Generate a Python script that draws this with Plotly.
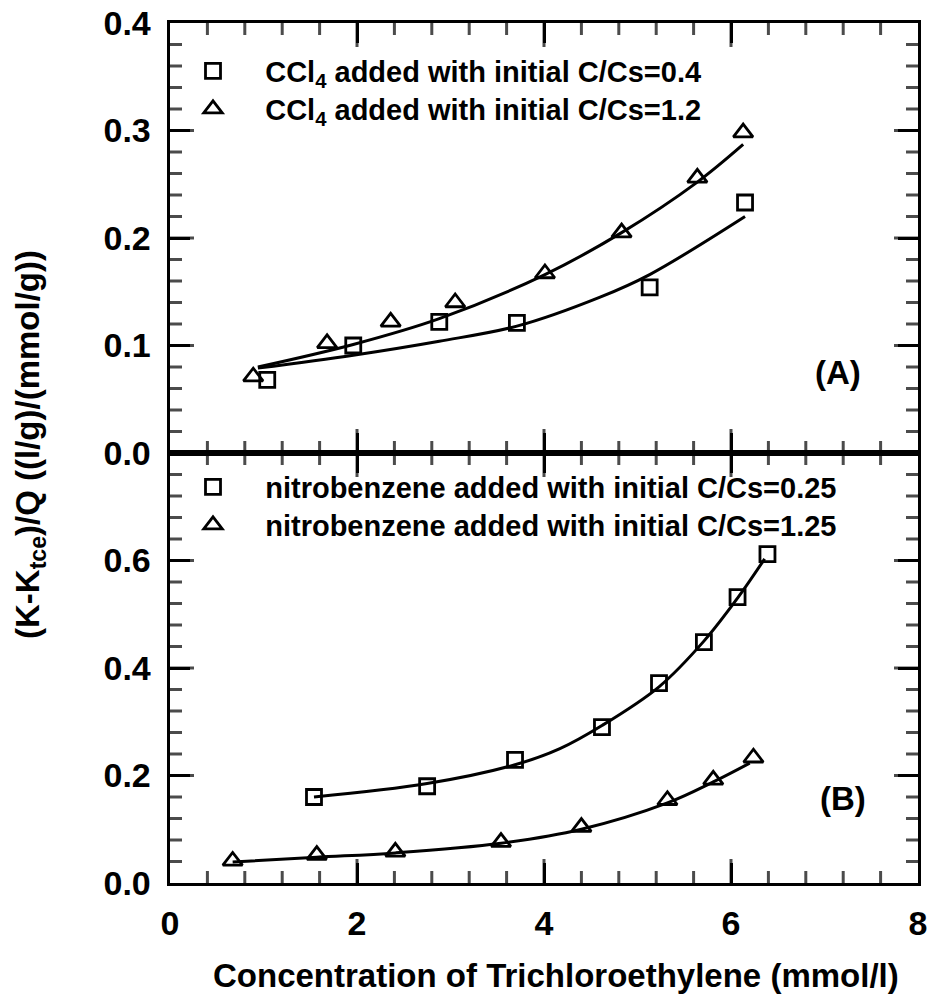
import plotly.graph_objects as go
from plotly.subplots import make_subplots

# ---------------- Panel A (CCl4) ----------------
a_sq_x = [1.04, 1.96, 2.88, 3.71, 5.13, 6.15]
a_sq_y = [0.068, 0.100, 0.122, 0.121, 0.154, 0.233]
a_tri_x = [0.89, 1.68, 2.36, 3.05, 4.01, 4.83, 5.64, 6.13]
a_tri_y = [0.071, 0.102, 0.122, 0.140, 0.167, 0.205, 0.256, 0.298]
a_sq_fit_x = [0.94, 1.96, 2.88, 3.71, 4.60, 5.13, 6.15]
a_sq_fit_y = [0.079, 0.091, 0.104, 0.118, 0.145, 0.166, 0.220]
a_tri_fit_x = [0.94, 1.96, 2.88, 4.01, 4.83, 5.64, 6.13]
a_tri_fit_y = [0.080, 0.101, 0.125, 0.166, 0.205, 0.252, 0.287]

# ---------------- Panel B (nitrobenzene) ----------------
b_sq_x = [1.54, 2.75, 3.69, 4.62, 5.23, 5.71, 6.07, 6.39]
b_sq_y = [0.160, 0.180, 0.229, 0.290, 0.372, 0.448, 0.532, 0.612]
b_tri_x = [0.67, 1.57, 2.41, 3.54, 4.40, 5.32, 5.81, 6.24]
b_tri_y = [0.041, 0.052, 0.058, 0.076, 0.104, 0.154, 0.192, 0.233]
b_sq_fit_x = [1.54, 2.75, 3.69, 4.17, 4.62, 5.23, 5.71, 6.07, 6.36]
b_sq_fit_y = [0.160, 0.185, 0.220, 0.250, 0.293, 0.365, 0.450, 0.530, 0.603]
b_tri_fit_x = [0.67, 1.57, 2.41, 3.54, 4.40, 5.32, 5.81, 6.20]
b_tri_fit_y = [0.039, 0.048, 0.056, 0.074, 0.100, 0.149, 0.188, 0.223]

legend_names = [
    "CCl<sub>4</sub> added with initial C/Cs=0.4",
    "CCl<sub>4</sub> added with initial C/Cs=1.2",
    "nitrobenzene added with initial C/Cs=0.25",
    "nitrobenzene added with initial C/Cs=1.25",
]

# tick values
x_major = [0, 2, 4, 6, 8]
x_minor_step = 0.4
ya_major = [0.0, 0.1, 0.2, 0.3, 0.4]
ya_minor_step = 0.02
yb_major = [0.0, 0.2, 0.4, 0.6]
yb_minor_step = 0.04

X_RANGE = [0, 8]
YA_RANGE = [0, 0.4]
YB_RANGE = [0, 0.8]

FONT = "Liberation Sans"
PAD = "\u00a0" * 4

L, R, T, B = 170, 12, 23, 123
W, H = 930, 1006
PW, PH = W - L - R, H - T - B

fig = make_subplots(rows=2, cols=1, shared_xaxes=True, vertical_spacing=0)

line_style = dict(color="black", width=3, shape="spline", smoothing=1.0)
sq_marker = dict(symbol="square-open", size=15, color="black",
                 line=dict(width=2.8, color="black"))
tri_marker = dict(symbol="triangle-up-open", size=17, color="black",
                  line=dict(width=2.8, color="black"))


# ---- inside tick marks (major 20 px, minor 10 px) as line-shaped markers ----
def steps(lo, hi, step):
    n = int(round((hi - lo) / step))
    return [lo + i * step for i in range(n + 1)]


def is_major(v, majors):
    return any(abs(v - m) < 1e-9 for m in majors)


def tick_markers(yrange, majors_y, ystep):
    x_per_px = (X_RANGE[1] - X_RANGE[0]) / PW
    y_per_px = (yrange[1] - yrange[0]) / (PH / 2)
    vx, vy, vs = [], [], []
    for v in steps(X_RANGE[0], X_RANGE[1], x_minor_step)[1:-1]:
        ln = 20 if is_major(v, x_major) else 10
        vx += [v, v]
        vy += [yrange[0] + ln / 2 * y_per_px, yrange[1] - ln / 2 * y_per_px]
        vs += [ln, ln]
    hx, hy, hs = [], [], []
    for v in steps(yrange[0], yrange[1], ystep)[1:-1]:
        ln = 20 if is_major(v, majors_y) else 10
        hx += [X_RANGE[0] + ln / 2 * x_per_px, X_RANGE[1] - ln / 2 * x_per_px]
        hy += [v, v]
        hs += [ln, ln]
    return (vx, vy, vs), (hx, hy, hs)


for row, yr, majors, ystep in ((1, YA_RANGE, ya_major, ya_minor_step),
                               (2, YB_RANGE, yb_major, yb_minor_step)):
    (vx, vy, vs), (hx, hy, hs) = tick_markers(yr, majors, ystep)
    fig.add_trace(go.Scatter(x=vx, y=vy, mode="markers", showlegend=False,
                             hoverinfo="skip",
                             marker=dict(symbol="line-ns", size=vs, color="black",
                                         line=dict(width=3, color="black"))),
                  row=row, col=1)
    fig.add_trace(go.Scatter(x=hx, y=hy, mode="markers", showlegend=False,
                             hoverinfo="skip",
                             marker=dict(symbol="line-ew", size=hs, color="black",
                                         line=dict(width=3, color="black"))),
                  row=row, col=1)

# fitted lines
fig.add_trace(go.Scatter(x=a_sq_fit_x, y=a_sq_fit_y, mode="lines", line=line_style,
                         showlegend=False, hoverinfo="skip"), row=1, col=1)
fig.add_trace(go.Scatter(x=a_tri_fit_x, y=a_tri_fit_y, mode="lines", line=line_style,
                         showlegend=False, hoverinfo="skip"), row=1, col=1)
fig.add_trace(go.Scatter(x=b_sq_fit_x, y=b_sq_fit_y, mode="lines", line=line_style,
                         showlegend=False, hoverinfo="skip"), row=2, col=1)
fig.add_trace(go.Scatter(x=b_tri_fit_x, y=b_tri_fit_y, mode="lines", line=line_style,
                         showlegend=False, hoverinfo="skip"), row=2, col=1)

# data points
fig.add_trace(go.Scatter(x=a_sq_x, y=a_sq_y, mode="markers", marker=sq_marker,
                         name=PAD + legend_names[0], legend="legend"), row=1, col=1)
fig.add_trace(go.Scatter(x=a_tri_x, y=a_tri_y, mode="markers", marker=tri_marker,
                         name=PAD + legend_names[1], legend="legend2"), row=1, col=1)
fig.add_trace(go.Scatter(x=b_sq_x, y=b_sq_y, mode="markers", marker=sq_marker,
                         name=PAD + legend_names[2], legend="legend3"), row=2, col=1)
fig.add_trace(go.Scatter(x=b_tri_x, y=b_tri_y, mode="markers", marker=tri_marker,
                         name=PAD + legend_names[3], legend="legend4"), row=2, col=1)


def px2x(px):
    return (px - L) / PW


def py2y(py):
    return (H - B - py) / PH


tickfont = dict(family=FONT, size=34, color="black", weight="bold")
common = dict(showline=True, linewidth=3, linecolor="black", mirror="ticks",
              ticks="inside", ticklen=20, tickwidth=3, tickcolor="black",
              showgrid=False, zeroline=False, tickfont=tickfont)

fig.layout.xaxis.update(range=X_RANGE, tickmode="array", tickvals=x_major, **common)
fig.layout.xaxis2.update(range=X_RANGE, tickmode="array", tickvals=x_major,
                         ticktext=[str(v) for v in x_major], ticklabelstandoff=8, **common)
fig.layout.yaxis.update(range=YA_RANGE, tickmode="array", tickvals=ya_major,
                        ticktext=[f"{v:.1f}\u00a0" for v in ya_major], **common)
fig.layout.yaxis2.update(range=YB_RANGE, tickmode="array", tickvals=yb_major,
                         ticktext=[f"{v:.1f}\u00a0" for v in yb_major], **common)

legfont = dict(family=FONT, size=29, color="black", weight="bold")
leg_common = dict(xanchor="left", yanchor="middle", bgcolor="rgba(0,0,0,0)",
                  borderwidth=0, font=legfont, itemwidth=30)
legend_x = px2x(193)

fig.update_layout(
    template="none",
    width=W, height=H,
    margin=dict(l=L, r=R, t=T, b=B),
    paper_bgcolor="white", plot_bgcolor="white",
    legend=dict(x=legend_x, y=py2y(71), **leg_common),
    legend2=dict(x=legend_x, y=py2y(109), **leg_common),
    legend3=dict(x=legend_x, y=py2y(487), **leg_common),
    legend4=dict(x=legend_x, y=py2y(525), **leg_common),
)

ann_font = dict(family=FONT, size=33, color="black", weight="bold")
fig.add_annotation(text="(A)", xref="paper", yref="paper", x=px2x(838), y=py2y(372),
                   xanchor="center", yanchor="middle", showarrow=False, font=ann_font)
fig.add_annotation(text="(B)", xref="paper", yref="paper", x=px2x(843), y=py2y(798),
                   xanchor="center", yanchor="middle", showarrow=False, font=ann_font)
fig.add_annotation(text="Concentration of Trichloroethylene (mmol/l)", xref="paper",
                   yref="paper", x=px2x(556), y=py2y(975), xanchor="center",
                   yanchor="middle", showarrow=False, font=ann_font)
fig.add_annotation(text="(K-K<sub>tce</sub>)/Q ((l/g)/(mmol/g))", xref="paper",
                   yref="paper", x=px2x(30), y=py2y(445), xanchor="center",
                   yanchor="middle", textangle=-90, showarrow=False, font=ann_font)

fig.write_html("out.html")
